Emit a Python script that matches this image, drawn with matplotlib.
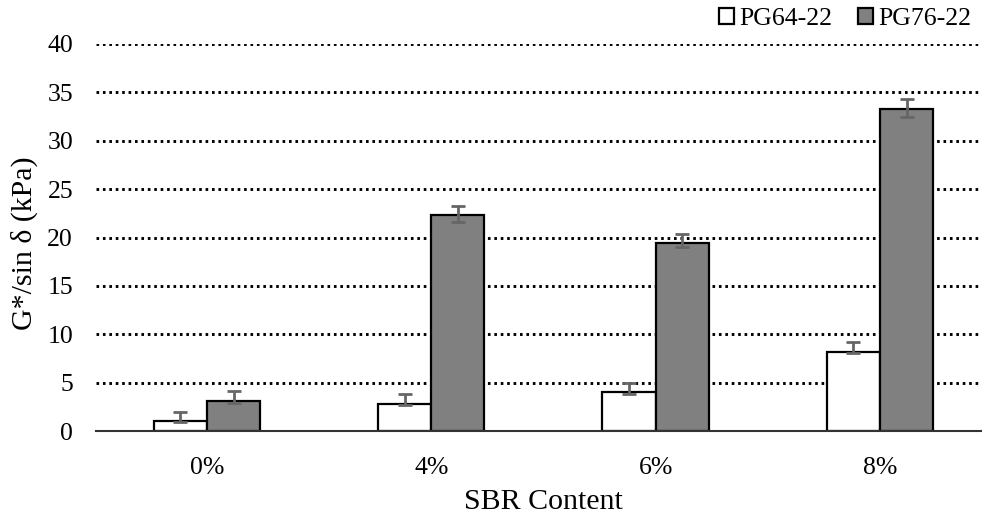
import matplotlib
matplotlib.use("Agg")
import matplotlib.pyplot as plt
import numpy as np

categories = ["0%", "4%", "6%", "8%"]
pg64 = [1.0, 2.8, 4.0, 8.2]
pg76 = [3.1, 22.3, 19.4, 33.3]
pg64_err_low = [0.05, 0.15, 0.2, 0.17]
pg64_err_high = [1.0, 1.0, 1.0, 1.0]
pg76_err_low = [0.25, 0.65, 0.35, 0.85]
pg76_err_high = [1.0, 1.0, 0.95, 1.0]
series_names = ["PG64-22", "PG76-22"]
yticks = [0, 5, 10, 15, 20, 25, 30, 35, 40]

plt.rcParams['font.family'] = ['Liberation Serif', 'DejaVu Serif']

fig = plt.figure(figsize=(9.82, 5.16), dpi=100)
ax = fig.add_axes([96/982, 85/516, 886/982, 387/516])

x = np.arange(len(categories))
w = 0.237
b1 = ax.bar(x - w/2, pg64, width=w, color="white", edgecolor="black", linewidth=1.6,
            label=series_names[0], zorder=3)
b2 = ax.bar(x + w/2, pg76, width=w, color="#808080", edgecolor="black", linewidth=1.6,
            label=series_names[1], zorder=3)
ax.errorbar(x - w/2, pg64, yerr=[pg64_err_low, pg64_err_high], fmt="none", ecolor="#666666",
            elinewidth=2, capsize=4.7, capthick=2, zorder=4)
ax.errorbar(x + w/2, pg76, yerr=[pg76_err_low, pg76_err_high], fmt="none", ecolor="#666666",
            elinewidth=2, capsize=4.7, capthick=2, zorder=4)

ax.set_xlim(-0.495, 3.455)
ax.set_ylim(0, 40)
ax.set_yticks(yticks)
ax.set_xticks(x)
ax.set_xticklabels(categories)
ax.yaxis.grid(True, color="black", linestyle=(0, (0.9, 1.3)), linewidth=2.1, zorder=0)
ax.set_axisbelow(True)
for s in ["left", "right", "top"]:
    ax.spines[s].set_visible(False)
ax.spines["bottom"].set_color("#333333")
ax.spines["bottom"].set_linewidth(1.5)
ax.spines["bottom"].set_zorder(5)
ax.tick_params(axis="both", length=0, labelsize=18.5)
ax.tick_params(axis="y", pad=16.5)
ax.tick_params(axis="x", pad=19)
ax.set_ylabel("G*/sin δ (kPa)", fontsize=21.5)
ax.set_xlabel("SBR Content", fontsize=21.5)
ax.yaxis.set_label_coords(-0.065, 0.485)
ax.xaxis.set_label_coords(0.505, -0.15)

leg = fig.legend(handles=[b1, b2], labels=series_names, loc="upper right",
                 bbox_to_anchor=(1.005, 1.015), ncol=2, frameon=False, fontsize=18.5,
                 handlelength=0.6, handleheight=0.6, handletextpad=0.2, columnspacing=1.0,
                 borderaxespad=0.2)

fig.savefig("out.png", dpi=100)
